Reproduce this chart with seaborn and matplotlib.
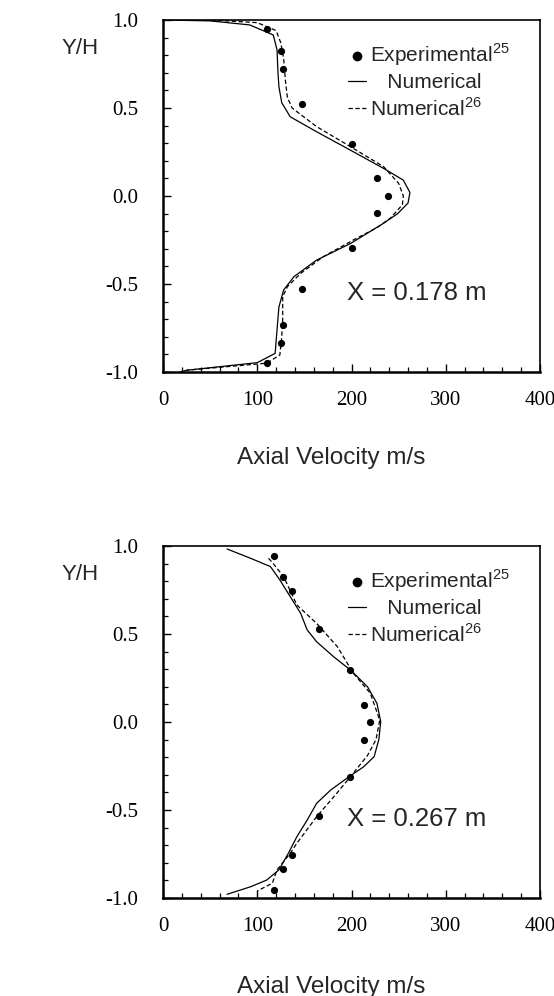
import matplotlib
matplotlib.use("Agg")
import matplotlib.pyplot as plt
import seaborn as sns
import numpy as np
from matplotlib.ticker import MultipleLocator

# ---------------- data ----------------
# X = 0.178 m
top_exp_v = [110, 125, 127, 148, 200, 227, 239, 227, 201, 148, 127, 125, 110]
top_exp_y = [0.947, 0.824, 0.72, 0.523, 0.295, 0.10, 0.0, -0.098, -0.297, -0.528, -0.731, -0.833, -0.947]

top_num_v = [0, 50, 92, 117, 121, 122, 123, 126, 135, 163, 199, 234, 255, 262, 260, 249, 234, 199, 163, 139, 128, 123, 121, 119, 100, 25, 18]
top_num_y = [1.0, 0.995, 0.972, 0.915, 0.83, 0.70, 0.62, 0.53, 0.45, 0.365, 0.26, 0.157, 0.09, 0.02, -0.04, -0.10, -0.155, -0.27, -0.364, -0.458, -0.534, -0.63, -0.76, -0.894, -0.947, -0.99, -1.0]

top_ref_v = [0, 60, 100, 120, 125, 128, 130, 132, 137, 163, 199, 234, 250, 255, 254, 241, 227, 202, 170, 146, 132, 127, 127, 126, 124, 110, 25]
top_ref_y = [1.0, 0.997, 0.985, 0.94, 0.87, 0.78, 0.65, 0.56, 0.50, 0.394, 0.28, 0.167, 0.072, 0.0, -0.05, -0.127, -0.18, -0.25, -0.345, -0.44, -0.515, -0.572, -0.705, -0.80, -0.903, -0.95, -0.99]

# X = 0.267 m
bot_exp_v = [118, 127, 137, 166, 198, 213, 220, 213, 198, 166, 137, 127, 118]
bot_exp_y = [0.945, 0.826, 0.744, 0.527, 0.295, 0.097, 0.0, -0.10, -0.31, -0.534, -0.756, -0.835, -0.955]

bot_num_v = [68, 93, 114, 124, 135, 146, 153, 163, 181, 199, 217, 227, 231, 229, 224, 213, 195, 178, 163, 153, 142, 133, 123, 110, 93, 68]
bot_num_y = [0.983, 0.93, 0.883, 0.807, 0.712, 0.618, 0.523, 0.456, 0.371, 0.295, 0.20, 0.106, 0.002, -0.10, -0.197, -0.254, -0.32, -0.386, -0.462, -0.557, -0.652, -0.746, -0.84, -0.898, -0.936, -0.979]

bot_ref_v = [112, 117, 128, 142, 163, 185, 202, 220, 230, 226, 217, 199, 182, 163, 142, 135, 121, 116, 100]
bot_ref_y = [0.93, 0.90, 0.826, 0.665, 0.56, 0.428, 0.277, 0.163, 0.01, -0.10, -0.19, -0.31, -0.42, -0.538, -0.689, -0.746, -0.84, -0.916, -0.96]

x_ticks = [0, 100, 200, 300, 400]
y_ticks = [-1.0, -0.5, 0.0, 0.5, 1.0]
legend_labels = ["Experimental$^{25}$", "   Numerical", "Numerical$^{26}$"]
x_label = "Axial Velocity m/s"
y_label = "Y/H"
stations = ["X = 0.178 m", "X = 0.267 m"]

# ---------------- style ----------------
sns.set_theme(style="ticks")
plt.rcParams["font.family"] = ["Liberation Sans", "DejaVu Sans"]
plt.rcParams["mathtext.fontset"] = "custom"
plt.rcParams["mathtext.rm"] = "Liberation Sans"

fig = plt.figure(figsize=(5.54, 9.96), dpi=100)
W, H = 554, 996
ax_top = fig.add_axes([163 / W, 1 - 372 / H, 377 / W, 352 / H])
ax_bot = fig.add_axes([163 / W, 1 - 898 / H, 377 / W, 352 / H])

panels = [
    (ax_top, top_exp_v, top_exp_y, top_num_v, top_num_y, top_ref_v, top_ref_y, stations[0]),
    (ax_bot, bot_exp_v, bot_exp_y, bot_num_v, bot_num_y, bot_ref_v, bot_ref_y, stations[1]),
]

for ax, ev, ey, nv, ny, rv, ry, st in panels:
    sns.scatterplot(x=ev, y=ey, ax=ax, color="black", s=27, marker="o",
                    edgecolor="black", linewidth=0, label=legend_labels[0], zorder=3)
    sns.lineplot(x=nv, y=ny, ax=ax, sort=False, estimator=None, color="black",
                 linewidth=0.9, label=legend_labels[1])
    sns.lineplot(x=rv, y=ry, ax=ax, sort=False, estimator=None, color="black",
                 linewidth=0.9, linestyle=(0, (3.5, 2.0)), label=legend_labels[2])

    ax.set_xlim(0, 400)
    ax.set_ylim(-1.0, 1.0)
    ax.set_xticks(x_ticks)
    ax.set_yticks(y_ticks)
    ax.set_xticklabels([str(t) for t in x_ticks])
    ax.set_yticklabels([f"{t:.1f}" for t in y_ticks])
    ax.xaxis.set_minor_locator(MultipleLocator(20))
    ax.yaxis.set_minor_locator(MultipleLocator(0.1))
    ax.tick_params(which="major", direction="in", length=6, width=1.0, colors="black")
    ax.tick_params(which="minor", direction="in", length=3.5, width=0.9, colors="black")
    ax.tick_params(axis="y", which="major", pad=18)
    ax.tick_params(axis="x", which="major", pad=14)
    for lab in ax.get_xticklabels() + ax.get_yticklabels():
        lab.set_fontfamily("Liberation Serif")
        lab.set_fontsize(15)
    ax.set_xlabel("")
    ax.set_ylabel("")
    for side in ["left", "bottom"]:
        ax.spines[side].set_linewidth(1.8)
    for side in ["top", "right"]:
        ax.spines[side].set_visible(True)
        ax.spines[side].set_linewidth(1.2)
    for sp in ax.spines.values():
        sp.set_color("black")

    leg = ax.legend(loc="upper left", bbox_to_anchor=(0.49, 0.94), frameon=False,
                    fontsize=15, handlelength=0.9, handletextpad=0.15,
                    labelspacing=0.25, borderpad=0, borderaxespad=0, markerscale=1.35)

    ax.text(195, -0.55, st, fontsize=18.5, ha="left", va="center")
    ax.text(-0.22, 0.92, y_label, transform=ax.transAxes, fontsize=16,
            ha="center", va="center")
    ax.text(0.446, -0.245 if ax is ax_top else -0.253, x_label,
            transform=ax.transAxes, fontsize=17.5, ha="center", va="center")

fig.savefig("out.png", dpi=100)
